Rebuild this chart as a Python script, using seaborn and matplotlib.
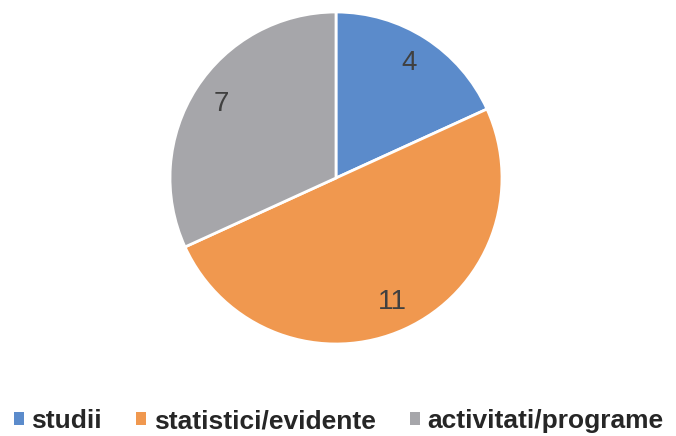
import matplotlib
matplotlib.use("Agg")
import matplotlib.pyplot as plt
import seaborn as sns
from matplotlib.patches import Patch

sns.set_theme(style="white")
plt.rcParams['font.family'] = ['Liberation Sans', 'DejaVu Sans']

categories = ["studii", "statistici/evidente", "activitati/programe"]
values = [4, 11, 7]
colors = ["#5B8BCB", "#F0984F", "#A6A6AA"]

fig = plt.figure(figsize=(6.76, 4.36), dpi=100)
cx, cy, r = 336, 178, 166
ax = fig.add_axes([(cx - r) / 676, (436 - cy - r) / 436, 2 * r / 676, 2 * r / 436])

wedges, texts = ax.pie(values, colors=colors, startangle=90, counterclock=False,
                       labels=[str(v) for v in values], labeldistance=0.82,
                       wedgeprops=dict(edgecolor="white", linewidth=2),
                       textprops=dict(color="#404040", fontsize=20))
for t in texts:
    t.set_ha("center")
    t.set_va("center")
ax.set_xlim(-1, 1)
ax.set_ylim(-1, 1)
ax.set_aspect("equal")
ax.axis("off")

handles = [Patch(facecolor=c, edgecolor="none") for c in colors]
leg = fig.legend(handles, categories, loc="center", ncol=3,
                 bbox_to_anchor=(0.501, 0.034), frameon=False,
                 handlelength=0.38, handleheight=0.38, handletextpad=0.28,
                 columnspacing=1.3, borderpad=0, borderaxespad=0,
                 prop=dict(family='Liberation Sans', weight='bold', size=19))

fig.savefig("out.png", dpi=100)
